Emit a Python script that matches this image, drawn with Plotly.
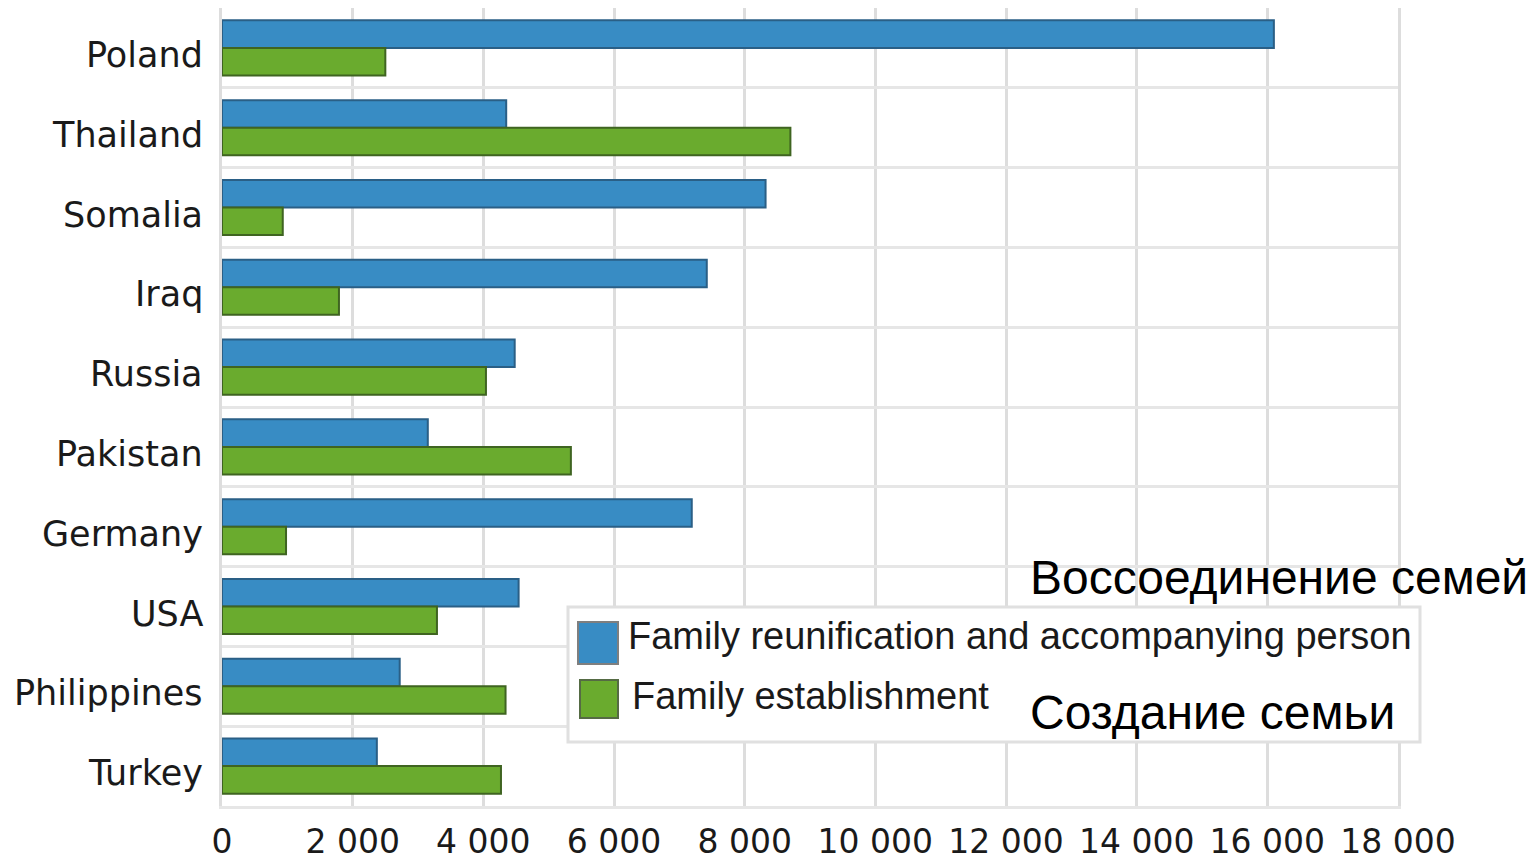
import plotly.graph_objects as go

countries = ["Poland", "Thailand", "Somalia", "Iraq", "Russia", "Pakistan",
             "Germany", "USA", "Philippines", "Turkey"]
reunification = [16100, 4350, 8320, 7420, 4480, 3150, 7190, 4540, 2720, 2370]
establishment = [2500, 8700, 930, 1790, 4040, 5340, 980, 3290, 4340, 4270]
series_names = ["Family reunification and accompanying person", "Family establishment"]
series_ru = ["Воссоединение семей", "Создание семьи"]
x_ticks = list(range(0, 18001, 2000))
x_tick_text = ["0" if v == 0 else f"{v:,}".replace(",", " ") for v in x_ticks]

# page offset (body margin) compensation
OFF = 8
W, H = 1536 - OFF, 862 - OFF
L, R, T, B = 222, 1398, 8, 806

def px(x):
    return (x - L) / (R - L)

def py(y):
    return (B - y) / (B - T)

BLUE = "#388CC4"
GREEN = "#6AAB2E"
TXT = "#1A1A1A"

fig = go.Figure()
fig.add_trace(go.Bar(y=countries, x=reunification, orientation="h", name=series_names[0],
                     marker=dict(color=BLUE, line=dict(color="#2A5F86", width=2))))
fig.add_trace(go.Bar(y=countries, x=establishment, orientation="h", name=series_names[1],
                     marker=dict(color=GREEN, line=dict(color="#3F6421", width=2))))

fig.update_layout(
    width=W, height=H,
    margin=dict(l=L - OFF, r=1536 - R, t=max(T - OFF, 0), b=862 - B, autoexpand=False),
    paper_bgcolor="white", plot_bgcolor="white",
    barmode="group", bargap=0.31, bargroupgap=0,
    showlegend=False,
    font=dict(family="DejaVu Sans", size=33, color=TXT),
)
fig.update_xaxes(range=[0, 18000], tickvals=x_ticks, ticktext=x_tick_text,
                 showgrid=True, gridcolor="#DDDDDD", gridwidth=3,
                 zeroline=False, showline=True, linecolor="#E6E6E6", linewidth=3, mirror=True,
                 ticks="", ticklabelstandoff=4,
                 tickfont=dict(family="DejaVu Sans", size=33, color=TXT))
fig.update_yaxes(categoryorder="array", categoryarray=countries, autorange="reversed",
                 tickson="boundaries", showgrid=True, gridcolor="#E6E6E6", gridwidth=3,
                 zeroline=False, showline=True, linecolor="#DDDDDD", linewidth=3, mirror=True,
                 ticks="", showticklabels=False)

# category labels (placed via the y axis scale, nudged down like the original)
for c in countries:
    fig.add_annotation(xref="paper", yref="y", x=px(205), y=c, xanchor="right", yanchor="middle",
                       yshift=-7, text=c, showarrow=False,
                       font=dict(family="DejaVu Sans", size=35, color=TXT))

# manual legend
fig.add_shape(type="rect", xref="paper", yref="paper",
              x0=px(568), x1=px(1420), y0=py(742), y1=py(607),
              line=dict(color="#E0E0E0", width=3), fillcolor="white", layer="above")
fig.add_shape(type="rect", xref="paper", yref="paper",
              x0=px(578), x1=px(618), y0=py(664), y1=py(622),
              line=dict(color="#7F7F7F", width=2), fillcolor=BLUE, layer="above")
fig.add_shape(type="rect", xref="paper", yref="paper",
              x0=px(580), x1=px(618), y0=py(718), y1=py(680),
              line=dict(color="#556B44", width=2), fillcolor=GREEN, layer="above")
fig.add_annotation(xref="paper", yref="paper", x=px(626), y=py(636), xanchor="left", yanchor="middle",
                   text=series_names[0], showarrow=False,
                   font=dict(family="Liberation Sans", size=38, color=TXT))
fig.add_annotation(xref="paper", yref="paper", x=px(630), y=py(696), xanchor="left", yanchor="middle",
                   text=series_names[1], showarrow=False,
                   font=dict(family="Liberation Sans", size=38, color=TXT))
fig.add_annotation(xref="paper", yref="paper", x=px(1028), y=py(577), xanchor="left", yanchor="middle",
                   text=series_ru[0], showarrow=False,
                   font=dict(family="Liberation Sans", size=48, color="black"))
fig.add_annotation(xref="paper", yref="paper", x=px(1028), y=py(712), xanchor="left", yanchor="middle",
                   text=series_ru[1], showarrow=False,
                   font=dict(family="Liberation Sans", size=48, color="black"))

fig.write_html("out.html")
